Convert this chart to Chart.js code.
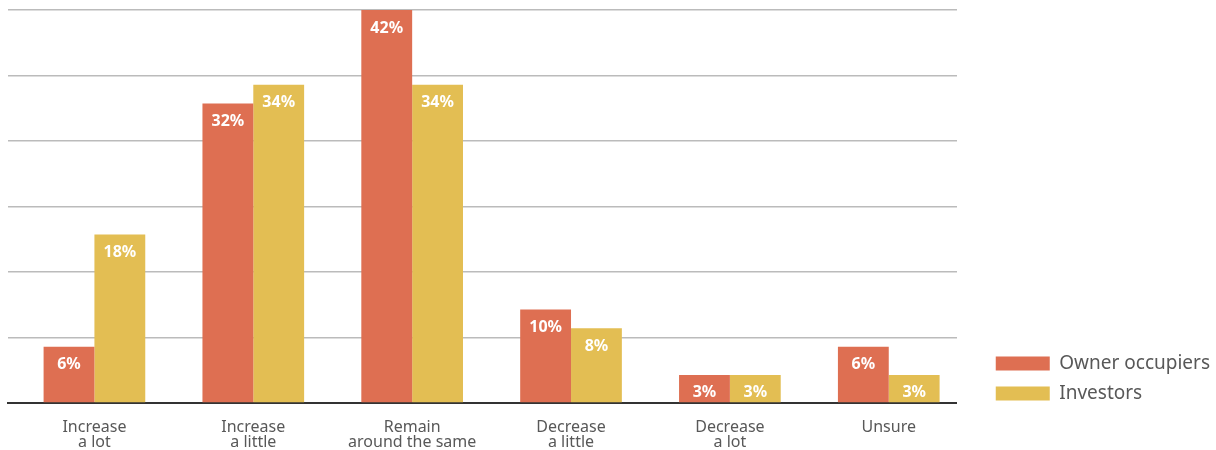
<!DOCTYPE html>
<html>
<head>
<meta charset="utf-8">
<script src="https://cdn.jsdelivr.net/npm/chart.js@4/dist/chart.umd.min.js"></script>
<style>
  html, body { margin: 0; padding: 0; background: #ffffff; }
  #wrap { width: 1216px; height: 450px; position: relative; }
</style>
</head>
<body>
<div id="wrap"><canvas id="chart" width="1216" height="450"></canvas></div>
<script>
// Expected change in values over the next period, by respondent group (%)
const categories = [
  ['Increase', 'a lot'],
  ['Increase', 'a little'],
  ['Remain', 'around the same'],
  ['Decrease', 'a little'],
  ['Decrease', 'a lot'],
  ['Unsure']
];
const ownerOccupiers = [6, 32, 42, 10, 3, 6];
const investors = [18, 34, 34, 8, 3, 3];
const seriesNames = ['Owner occupiers', 'Investors'];

// category positions run 0..5; the plot extends a little past each end
const xRange = [-0.544, 5.428];
const yRange = [0, 42];
const yStep = 7;

const ORANGE = '#DE6F52';
const YELLOW = '#E3BE53';
const FONT = '"Noto Sans", "Open Sans", sans-serif';

const toPoints = (values) => values.map((v, i) => ({ x: i, y: v }));

// Writes each bar's value in white just inside its top edge
const barValueLabels = {
  id: 'barValueLabels',
  afterDatasetsDraw(chart) {
    const ctx = chart.ctx;
    ctx.save();
    ctx.fillStyle = '#ffffff';
    ctx.font = 'bold 16px ' + FONT;
    ctx.textAlign = 'center';
    ctx.textBaseline = 'middle';
    chart.data.datasets.forEach((ds, i) => {
      const meta = chart.getDatasetMeta(i);
      meta.data.forEach((bar, j) => {
        ctx.fillText(ds.data[j].y + '%', bar.x, bar.y + 18);
      });
    });
    ctx.restore();
  }
};

// Lets the legend block sit a little lower, level with the category baseline
const legendDrop = {
  id: 'legendDrop',
  afterLayout(chart) {
    const lg = chart.legend;
    if (lg) { lg.top += 11; lg.bottom += 11; }
  }
};

new Chart(document.getElementById('chart'), {
  type: 'bar',
  data: {
    datasets: [
      { label: seriesNames[0], data: toPoints(ownerOccupiers), backgroundColor: ORANGE },
      { label: seriesNames[1], data: toPoints(investors), backgroundColor: YELLOW }
    ]
  },
  options: {
    responsive: false,
    animation: false,
    layout: { padding: { left: 8, top: 10, right: -4, bottom: 0 } },
    datasets: {
      bar: { categoryPercentage: 0.64, barPercentage: 1.0, borderWidth: 0 }
    },
    plugins: {
      tooltip: { enabled: false },
      legend: {
        position: 'right',
        align: 'end',
        fullSize: false,
        labels: {
          boxWidth: 54,
          boxHeight: 14,
          padding: 11,
          color: '#585858',
          font: { family: FONT, size: 19, weight: 'normal' }
        }
      }
    },
    scales: {
      x: {
        type: 'linear',
        offset: false,
        min: xRange[0],
        max: xRange[1],
        grid: { display: false, drawTicks: false, offset: false },
        border: { display: true, color: '#333333', width: 2 },
        afterFit(scale) { scale.height = 47; },
        ticks: {
          stepSize: 1,
          includeBounds: false,
          autoSkip: false,
          maxRotation: 0,
          color: '#585858',
          padding: 17,
          font: { family: FONT, size: 16, weight: 'normal', lineHeight: 0.92 },
          callback: (value) => categories[value] || ''
        }
      },
      // value axis sits on the right with hidden ticks; its width is the gap before the legend
      y: {
        position: 'right',
        min: yRange[0],
        max: yRange[1],
        ticks: { display: false, stepSize: yStep },
        border: { display: false },
        grid: { color: '#bbbbbb', lineWidth: 1.5, drawTicks: false },
        afterFit(scale) { scale.width = 28; }
      }
    }
  },
  plugins: [barValueLabels, legendDrop]
});
</script>
</body>
</html>
